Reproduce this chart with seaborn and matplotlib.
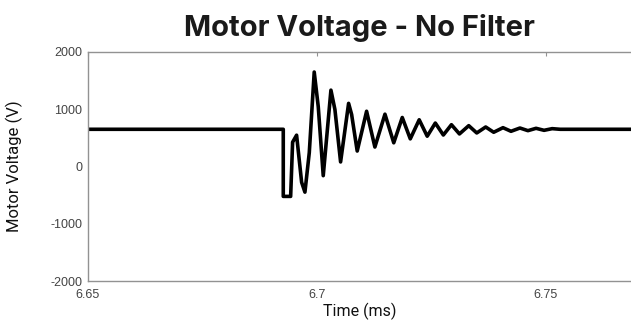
import matplotlib
matplotlib.use("Agg")
import matplotlib.pyplot as plt
import seaborn as sns
import pandas as pd

# Time (ms) and voltage (V)
time_ms = [6.650, 6.69265, 6.69265, 6.69426, 6.69469, 6.69556, 6.69666, 6.69738,
           6.69833, 6.69941, 6.70029, 6.70138, 6.70306, 6.70393, 6.70517, 6.70692,
           6.70758, 6.70880, 6.71085, 6.71266, 6.71486, 6.71678, 6.71864, 6.72039,
           6.72234, 6.72409, 6.72586, 6.72761, 6.72938, 6.73113, 6.73316, 6.73491,
           6.73686, 6.73861, 6.74064, 6.74239, 6.74434, 6.74609, 6.74786, 6.74961,
           6.75138, 6.75313, 6.7690]
voltage_v = [650, 650, -522, -522, 425, 547, -276, -448,
             241, 1650, 1046, -160, 1334, 995, 80, 1103,
             908, 270, 965, 340, 914, 414, 856, 483,
             816, 529, 759, 550, 730, 569, 713, 586,
             690, 598, 678, 615, 672, 626, 667, 632,
             661, 650, 650]

x_ticks = [6.65, 6.70, 6.75]
x_tick_labels = ["6.65", "6.7", "6.75"]
y_ticks = [-2000, -1000, 0, 1000, 2000]
y_tick_labels = ["-2000", "-1000", "0", "1000", "2000"]

df = pd.DataFrame({"time": time_ms, "voltage": voltage_v})

sns.set_style("white")
fig = plt.figure(figsize=(6.31, 3.22), dpi=100)
ax = fig.add_axes([88 / 631, 1 - 281 / 322, 1 - 88 / 631, (281 - 52) / 322])

sns.lineplot(data=df, x="time", y="voltage", ax=ax, color="black",
             linewidth=2.6, estimator=None, sort=False)

ax.set_xlim(6.65, 6.7686)
ax.set_ylim(-2000, 2000)
ax.set_xticks(x_ticks)
ax.set_xticklabels(x_tick_labels)
ax.set_yticks(y_ticks)
ax.set_yticklabels(y_tick_labels)

for s in ["left", "top", "bottom"]:
    ax.spines[s].set_color("#929292")
    ax.spines[s].set_linewidth(1.0)
ax.spines["right"].set_visible(False)

ax.tick_params(direction="in", length=3, width=0.8, color="#929292",
               top=True, labelsize=9, labelcolor="#444444")
ax.tick_params(axis="x", pad=6)
ax.tick_params(axis="y", pad=4)
for lab in ax.get_xticklabels() + ax.get_yticklabels():
    lab.set_family("Liberation Sans")

ax.set_xlabel("Time (ms)", family="Roboto", fontsize=11.5, color="#111111", labelpad=1)
ax.set_ylabel("Motor Voltage (V)", family="Roboto", fontsize=12, color="#111111", labelpad=20)

fig.text((88 + 631) / 2 / 631, 1 - 36 / 322, "Motor Voltage - No Filter",
         family="Inter", fontweight="bold", fontsize=21, color="#1a1a1a",
         ha="center", va="baseline")

fig.savefig("out.png", dpi=100, facecolor="white")
